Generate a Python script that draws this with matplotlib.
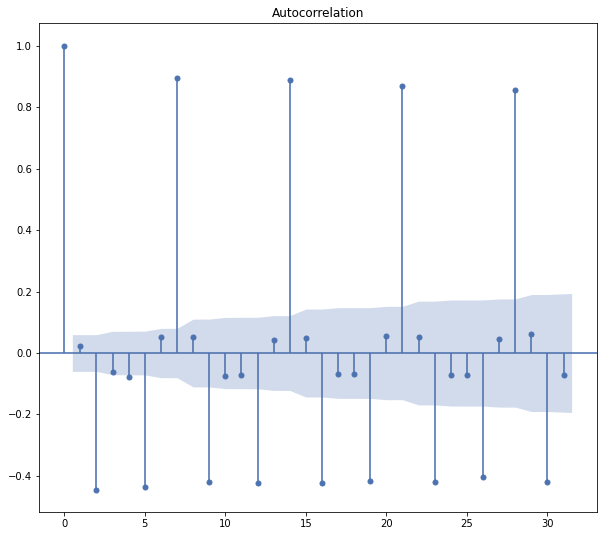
import numpy as np
import matplotlib
matplotlib.use("Agg")
import matplotlib.pyplot as plt

lags = np.arange(0, 32)
acf_vals = [1.0, 0.023, -0.445, -0.062, -0.078, -0.435, 0.052, 0.896,
            0.052, -0.419, -0.075, -0.071, -0.422, 0.042, 0.889, 0.048,
            -0.423, -0.068, -0.068, -0.416, 0.055, 0.869, 0.052, -0.419,
            -0.071, -0.071, -0.402, 0.045, 0.856, 0.061, -0.419, -0.071]
# half width of the confidence band for lags 1..31
band = [0.0598, 0.0598, 0.0707, 0.0709, 0.0711, 0.0801, 0.0803, 0.1103,
        0.1104, 0.1159, 0.1161, 0.1163, 0.1216, 0.1217, 0.1430, 0.1431,
        0.1475, 0.1476, 0.1477, 0.1518, 0.1519, 0.1688, 0.1688, 0.1725,
        0.1726, 0.1727, 0.1760, 0.1760, 0.1903, 0.1904, 0.1936]

blue = "#4c72b0"

fig = plt.figure(figsize=(603 / 72, 536 / 72), dpi=72)
ax = fig.add_axes([0.0645, 0.0448, 0.9255, 0.9114])

ax.vlines(lags, [0], acf_vals, color=blue, linewidth=2, alpha=0.8)
ax.axhline(0, color=blue, linewidth=2, alpha=0.8)
ax.plot(lags, acf_vals, marker="o", markersize=5, linestyle="none", color=blue)

band_x = lags[1:].astype(float)
band_x[0] -= 0.5
band_x[-1] += 0.5
band = np.array(band)
ax.fill_between(band_x, -band, band, color=blue, alpha=0.25, linewidth=0)

ax.margins(0.05)
ax.set_title("Autocorrelation", fontsize=12)

fig.savefig("out.png", dpi=72)
